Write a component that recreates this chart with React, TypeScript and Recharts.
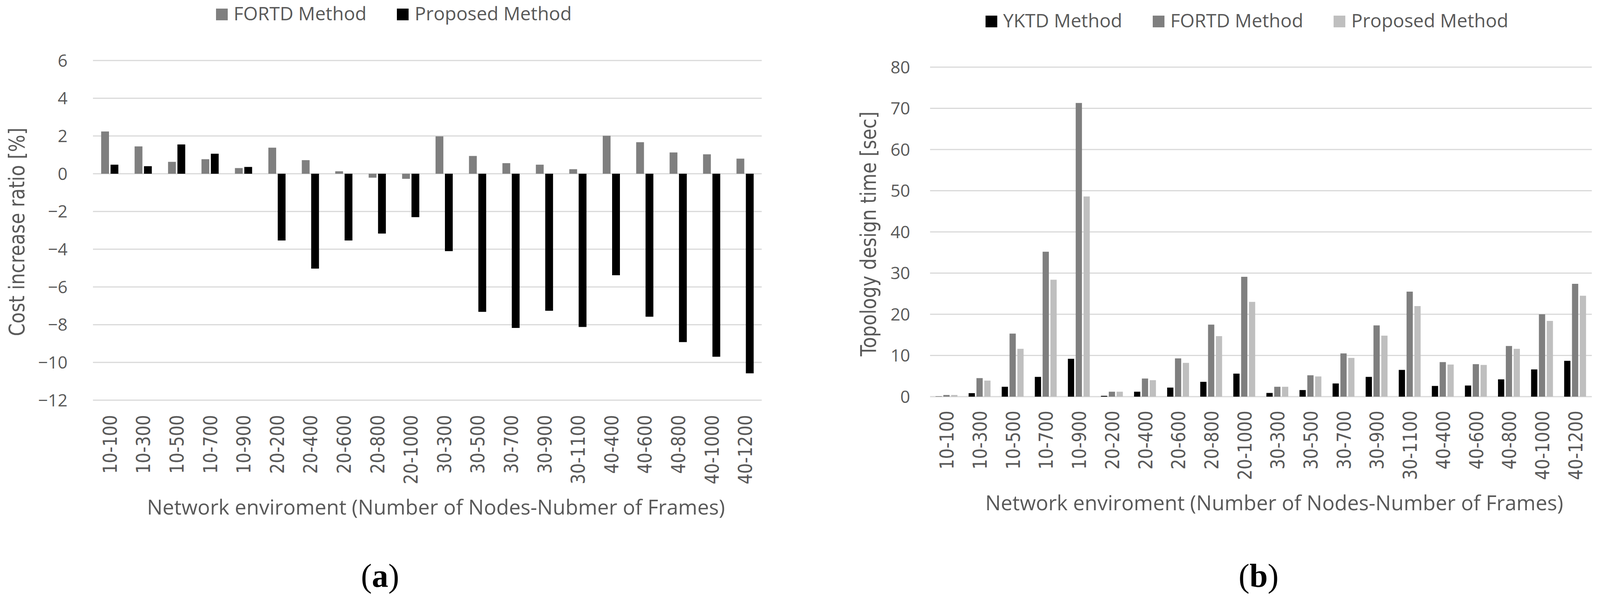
import React from 'react';
import { BarChart, Bar, XAxis, YAxis, CartesianGrid, Legend } from 'recharts';

// network environments (nodes-frames)
const categories = [
  '10-100', '10-300', '10-500', '10-700', '10-900',
  '20-200', '20-400', '20-600', '20-800', '20-1000',
  '30-300', '30-500', '30-700', '30-900', '30-1100',
  '40-400', '40-600', '40-800', '40-1000', '40-1200',
];

// (a) cost increase ratio [%]
const costFortd = [2.24, 1.45, 0.63, 0.77, 0.3, 1.38, 0.72, 0.13, -0.21, -0.27, 1.98, 0.94, 0.56, 0.48, 0.24, 2.01, 1.67, 1.13, 1.03, 0.8];
const costProposed = [0.48, 0.4, 1.55, 1.06, 0.36, -3.54, -5.03, -3.54, -3.17, -2.3, -4.1, -7.32, -8.17, -7.26, -8.12, -5.38, -7.58, -8.92, -9.7, -10.58];
const costTicks = [-12, -10, -8, -6, -4, -2, 0, 2, 4, 6];

// (b) topology design time [sec]
const timeYktd = [0.05, 0.85, 2.4, 4.8, 9.2, 0.2, 1.2, 2.2, 3.6, 5.6, 0.9, 1.6, 3.2, 4.8, 6.5, 2.6, 2.7, 4.2, 6.6, 8.7];
const timeFortd = [0.4, 4.5, 15.3, 35.2, 71.3, 1.2, 4.4, 9.3, 17.5, 29.1, 2.4, 5.2, 10.5, 17.3, 25.5, 8.4, 7.9, 12.3, 20.0, 27.4];
const timeProposed = [0.4, 3.9, 11.6, 28.4, 48.6, 1.2, 4.0, 8.2, 14.7, 23.0, 2.4, 4.9, 9.4, 14.8, 22.0, 7.8, 7.7, 11.6, 18.4, 24.5];
const timeTicks = [0, 10, 20, 30, 40, 50, 60, 70, 80];

const costSeries = [
  { key: 'fortd', name: 'FORTD Method', color: '#7f7f7f' },
  { key: 'proposed', name: 'Proposed Method', color: '#000000' },
];
const timeSeries = [
  { key: 'yktd', name: 'YKTD Method', color: '#000000' },
  { key: 'fortd', name: 'FORTD Method', color: '#7f7f7f' },
  { key: 'proposed', name: 'Proposed Method', color: '#bfbfbf' },
];

const costData = categories.map((name, i) => ({
  name,
  fortd: costFortd[i],
  proposed: costProposed[i],
}));

const timeData = categories.map((name, i) => ({
  name,
  yktd: timeYktd[i],
  fortd: timeFortd[i],
  proposed: timeProposed[i],
}));

const TEXT = '#595959';
const GRID = '#d9d9d9';

const CategoryTick = ({ x, y, payload }: any) => (
  <text
    transform={`translate(${x + 18},${y}) rotate(-90) scale(0.85,1)`}
    textAnchor="end"
    fontFamily="DejaVu Sans"
    fontSize={50}
    fill={TEXT}
  >
    {payload.value}
  </text>
);

const YTitle = ({ px, py, text }: any) => (
  <text
    transform={`translate(${px},${py}) rotate(-90) scale(0.85,1)`}
    textAnchor="middle"
    fontFamily="DejaVu Sans"
    fontSize={55}
    fill={TEXT}
  >
    {text}
  </text>
);

const XTitle = ({ px, py, text }: any) => (
  <text x={px} y={py} textAnchor="middle" fontFamily="Open Sans" fontSize={53} fill={TEXT}>
    {text}
  </text>
);

// legend drawn from the series list so the order stays as in the chart
const LegendContent = ({ series }: any) => (
  <div
    style={{
      display: 'flex',
      alignItems: 'center',
      fontFamily: 'Open Sans',
      fontSize: 48,
      lineHeight: '48px',
      color: TEXT,
      whiteSpace: 'nowrap',
    }}
  >
    {series.map((s: any, i: number) => (
      <div key={s.key} style={{ display: 'flex', alignItems: 'center', marginLeft: i === 0 ? 0 : 78 }}>
        <div style={{ width: 30, height: 30, background: s.color, marginRight: 15, marginTop: 6 }} />
        <span>{s.name}</span>
      </div>
    ))}
  </div>
);

const fmtMinus = (v: number) => String(v).replace('-', '\u2212');

const tickStyle = { fontFamily: 'Open Sans', fontSize: 44, fill: TEXT };

const Caption = ({ cx, text }: { cx: number; text: string }) => (
  <div
    style={{
      position: 'absolute',
      left: cx - 150,
      top: 1433,
      width: 300,
      textAlign: 'center',
      fontFamily: 'Liberation Serif',
      fontSize: 84,
      lineHeight: '84px',
      color: '#000',
    }}
  >
    (<b>{text}</b>)
  </div>
);

const RIGHT_X = 2093;

export default function App() {
  return (
    <div style={{ position: 'absolute', left: 0, top: 0, width: 4187, height: 1542, background: '#fff', overflow: 'hidden' }}>
      <div style={{ position: 'absolute', left: 0, top: 0 }}>
        <BarChart
          width={2093}
          height={1542}
          data={costData}
          margin={{ top: 155, right: 2093 - 1950, bottom: 187, left: 0 }}
          barSize={20}
          barGap={4}
        >
          <CartesianGrid vertical={false} stroke={GRID} strokeWidth={3} />
          <XAxis
            dataKey="name"
            interval={0}
            axisLine={false}
            tickLine={false}
            tickSize={0}
            tickMargin={38}
            height={330}
            tick={<CategoryTick />}
            label={<XTitle px={1116} py={1318} text="Network enviroment (Number of Nodes-Nubmer of Frames)" />}
          />
          <YAxis
            domain={[-12, 6]}
            ticks={costTicks}
            interval={0}
            width={238}
            axisLine={false}
            tickLine={false}
            tickSize={0}
            tickMargin={65}
            tick={tickStyle}
            tickFormatter={fmtMinus}
            label={<YTitle px={62} py={594} text="Cost increase ratio [%]" />}
          />
          <Legend
            layout="horizontal"
            verticalAlign="middle"
            align="center"
            wrapperStyle={{ top: 10, left: 553, width: 1200, height: 60 }}
            content={<LegendContent series={costSeries} />}
          />
          {costSeries.map((s) => (
            <Bar key={s.key} dataKey={s.key} name={s.name} fill={s.color} isAnimationActive={false} />
          ))}
        </BarChart>
      </div>

      <div style={{ position: 'absolute', left: RIGHT_X, top: 0 }}>
        <BarChart
          width={2094}
          height={1542}
          data={timeData}
          margin={{ top: 172, right: 4187 - 4075, bottom: 196, left: 0 }}
          barSize={16}
          barGap={4}
        >
          <CartesianGrid vertical={false} stroke={GRID} strokeWidth={3} />
          <XAxis
            dataKey="name"
            interval={0}
            axisLine={false}
            tickLine={false}
            tickSize={0}
            tickMargin={36}
            height={330}
            tick={<CategoryTick />}
            label={<XTitle px={3262 - RIGHT_X} py={1307} text="Network enviroment (Number of Nodes-Number of Frames)" />}
          />
          <YAxis
            domain={[0, 80]}
            ticks={timeTicks}
            interval={0}
            width={288}
            axisLine={false}
            tickLine={false}
            tickSize={0}
            tickMargin={51}
            tick={tickStyle}
            label={<YTitle px={2242 - RIGHT_X} py={599} text="Topology design time [sec]" />}
          />
          <Legend
            layout="horizontal"
            verticalAlign="middle"
            align="center"
            wrapperStyle={{ top: 28, left: 2523 - RIGHT_X, width: 1500, height: 60 }}
            content={<LegendContent series={timeSeries} />}
          />
          {timeSeries.map((s) => (
            <Bar key={s.key} dataKey={s.key} name={s.name} fill={s.color} isAnimationActive={false} />
          ))}
        </BarChart>
      </div>

      <Caption cx={973} text="a" />
      <Caption cx={3222} text="b" />
    </div>
  );
}
